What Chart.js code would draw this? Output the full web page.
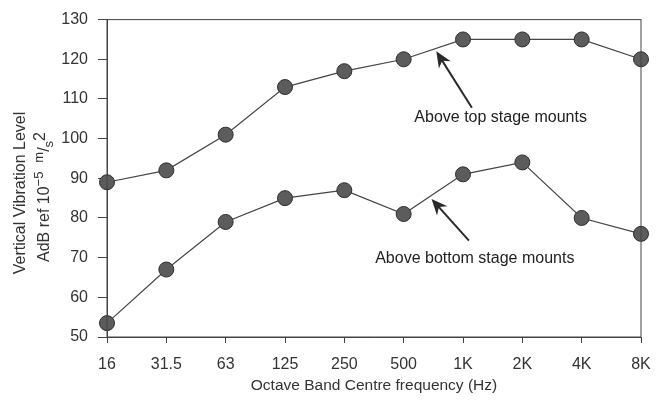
<!DOCTYPE html>
<html>
<head>
<meta charset="utf-8">
<script src="https://cdn.jsdelivr.net/npm/chart.js@4"></script>
<style>
  body { margin: 0; background: #fff; }
  #wrap { width: 663px; height: 400px; }
</style>
</head>
<body>
<div id="wrap"><canvas id="myChart" width="663" height="400"></canvas></div>
<script>
// Octave band centres and measured levels (AdB)
let bands = ['16', '31.5', '63', '125', '250', '500', '1K', '2K', '4K', '8K'];
let topMounts = [89, 92, 101, 113, 117, 120, 125, 125, 125, 120];
let bottomMounts = [53.5, 67, 79, 85, 87, 81, 91, 94, 80, 76];
let yTicks = [50, 60, 70, 80, 90, 100, 110, 120, 130];

// labels with arrows, placed in (band index, dB)
let notes = [
    { text: 'Above top stage mounts', at: [5.18, 105.3], tail: [6.15, 107.8], head: [5.55, 122] },
    { text: 'Above bottom stage mounts', at: [4.52, 69.8], tail: [6.1, 74.3], head: [5.47, 84.8] }
];

let font = '"Liberation Sans", Arial, sans-serif';

function xAt(scale, i) {
    let a = Math.floor(i);
    let b = Math.min(a + 1, bands.length - 1);
    let pa = scale.getPixelForValue(a);
    let pb = scale.getPixelForValue(b);
    return pa + (i - a) * (pb - pa);
}

let extras = {
    id: 'extras',
    afterDraw(chart) {
        let ctx = chart.ctx;
        let area = chart.chartArea;
        let xs = chart.scales.x;
        let ys = chart.scales.y;

        // frame round the plot
        ctx.save();
        ctx.strokeStyle = '#444';
        ctx.lineWidth = 1;
        ctx.strokeRect(area.left, area.top, area.right - area.left, area.bottom - area.top);
        ctx.restore();

        // notes with arrows
        notes.forEach(function(n) {
            let tx = xAt(xs, n.tail[0]), ty = ys.getPixelForValue(n.tail[1]);
            let hx = xAt(xs, n.head[0]), hy = ys.getPixelForValue(n.head[1]);
            let ang = Math.atan2(hy - ty, hx - tx);
            ctx.save();
            ctx.strokeStyle = '#2a2a2a';
            ctx.fillStyle = '#2a2a2a';
            ctx.lineWidth = 2;
            ctx.beginPath();
            ctx.moveTo(tx, ty);
            ctx.lineTo(hx - 8 * Math.cos(ang), hy - 8 * Math.sin(ang));
            ctx.stroke();
            ctx.translate(hx, hy);
            ctx.rotate(ang);
            ctx.beginPath();
            ctx.moveTo(0, 0);
            ctx.lineTo(-16, -7);
            ctx.lineTo(-11, 0);
            ctx.lineTo(-16, 7);
            ctx.closePath();
            ctx.fill();
            ctx.restore();

            ctx.save();
            ctx.fillStyle = '#222';
            ctx.font = '16px ' + font;
            ctx.textBaseline = 'middle';
            ctx.textAlign = 'left';
            ctx.fillText(n.text, xAt(xs, n.at[0]), ys.getPixelForValue(n.at[1]));
            ctx.restore();
        });

        // y axis title, two lines, with super/subscripts
        ctx.save();
        ctx.fillStyle = '#333';
        ctx.translate(21, 193);
        ctx.rotate(-Math.PI / 2);
        ctx.textBaseline = 'middle';
        ctx.textAlign = 'center';
        ctx.font = '16px ' + font;
        ctx.fillText('Vertical Vibration Level', 0, 0);
        ctx.restore();

        let parts = [
            { t: 'AdB ref 10', s: 16, dy: 0 },
            { t: '\u22125', s: 13, dy: -6 },
            { t: '  ', s: 16, dy: 0 },
            { t: 'm', s: 13, dy: -6 },
            { t: '/', s: 16, dy: 0 },
            { t: 's', s: 13, dy: 4 },
            { t: '2', s: 16, dy: -4 }
        ];
        ctx.save();
        ctx.fillStyle = '#333';
        ctx.textBaseline = 'middle';
        ctx.textAlign = 'left';
        let total = 0;
        parts.forEach(function(p) {
            ctx.font = p.s + 'px ' + font;
            p.w = ctx.measureText(p.t).width;
            total += p.w;
        });
        ctx.translate(45, 197);
        ctx.rotate(-Math.PI / 2);
        let cx = -total / 2;
        parts.forEach(function(p) {
            ctx.font = p.s + 'px ' + font;
            ctx.fillText(p.t, cx, p.dy);
            cx += p.w;
        });
        ctx.restore();
    }
};

document.addEventListener("DOMContentLoaded", function() {
    let ctx = document.getElementById('myChart').getContext('2d');
    let lineStyle = {
        borderColor: '#444',
        borderWidth: 1.2,
        pointRadius: 7.5,
        pointBackgroundColor: '#5c5c5c',
        pointBorderColor: '#2e2e2e',
        pointBorderWidth: 1,
        tension: 0,
        clip: false
    };
    let myChart = new Chart(ctx, {
        type: 'line',
        data: {
            labels: bands,
            datasets: [
                Object.assign({ label: 'Above top stage mounts', data: topMounts }, lineStyle),
                Object.assign({ label: 'Above bottom stage mounts', data: bottomMounts }, lineStyle)
            ]
        },
        options: {
            responsive: false,
            animation: false,
            layout: { padding: { left: 0, right: 22, top: 17, bottom: 0 } },
            plugins: {
                legend: { display: false },
                tooltip: { enabled: false }
            },
            scales: {
                x: {
                    offset: false,
                    afterFit: function(scale) { scale.height = 63; },
                    grid: { drawOnChartArea: false, drawTicks: true, tickLength: 6, color: '#444' },
                    border: { display: true, color: '#444' },
                    ticks: { color: '#333', padding: 12, maxRotation: 0, autoSkip: false, font: { size: 16, family: font } },
                    title: { display: true, text: 'Octave Band Centre frequency (Hz)', color: '#333', padding: { top: 0, bottom: 5 }, font: { size: 15.5, family: font } }
                },
                y: {
                    min: 50,
                    max: 130,
                    afterBuildTicks: function(scale) {
                        scale.ticks = yTicks.map(function(v) { return { value: v }; });
                    },
                    afterFit: function(scale) { scale.width = 107; },
                    grid: { drawOnChartArea: false, drawTicks: true, tickLength: 9, color: '#444' },
                    border: { display: true, color: '#444' },
                    ticks: { color: '#333', padding: 10, font: { size: 16, family: font } }
                }
            }
        },
        plugins: [extras]
    });
});
</script>
</body>
</html>
